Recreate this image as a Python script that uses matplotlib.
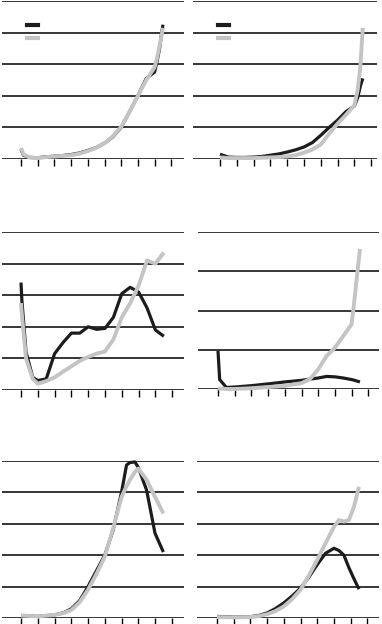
import matplotlib
matplotlib.use("Agg")
import matplotlib.pyplot as plt

W, H = 382, 624
BLACK = "#1c1c1c"
GRAY = "#c4c4c4"

# x positions in tick units (10 ticks, 0..9)
p1_x = [0, 0.15, 0.5, 1, 1.5, 2, 2.5, 3, 3.5, 4, 4.5, 5, 5.5, 6, 6.5, 7, 7.5, 8, 8.15, 8.3, 8.4, 8.5]
p1_black = [0.3, 0.12, 0.05, 0.04, 0.07, 0.09, 0.11, 0.14, 0.19, 0.27, 0.36, 0.5, 0.7, 1.0, 1.5, 2.0, 2.55, 2.75, 3.1, 3.5, 3.9, 4.25]
p1_gray = [0.35, 0.15, 0.05, 0.03, 0.06, 0.08, 0.1, 0.12, 0.17, 0.25, 0.35, 0.5, 0.72, 1.02, 1.5, 2.0, 2.5, 2.9, 3.2, 3.6, 3.85, 4.15]

p2_x = [0, 0.5, 1, 1.5, 2, 2.5, 3, 3.5, 4, 4.5, 5, 5.5, 6, 6.5, 7, 7.5, 8, 8.2, 8.35, 8.5]
p2_black = [0.15, 0.06, 0.05, 0.05, 0.06, 0.08, 0.12, 0.16, 0.22, 0.29, 0.38, 0.52, 0.75, 1.0, 1.23, 1.5, 1.68, 1.95, 2.3, 2.55]
p2_gray = [0.05, 0.03, 0.03, 0.03, 0.03, 0.04, 0.05, 0.06, 0.08, 0.12, 0.2, 0.3, 0.46, 0.8, 1.12, 1.4, 1.7, 2.2, 2.9, 4.15]

p3_x = [0, 0.05, 0.3, 0.7, 1, 1.5, 2, 2.5, 3, 3.5, 4, 4.5, 5, 5.5, 6, 6.5, 7, 7.5, 8, 8.5]
p3_black = [3.4, 2.85, 1.2, 0.4, 0.3, 0.35, 1.15, 1.5, 1.8, 1.8, 2.0, 1.92, 1.95, 2.3, 3.05, 3.25, 3.1, 2.6, 1.9, 1.7]
p3_gray = [2.75, 2.4, 1.0, 0.35, 0.2, 0.28, 0.4, 0.58, 0.75, 0.92, 1.05, 1.15, 1.22, 1.6, 2.3, 2.75, 3.3, 4.1, 4.0, 4.35]

p4_x = [0, 0.1, 0.5, 1, 2, 3, 4, 5, 5.5, 6, 6.5, 7, 7.5, 8, 8.1, 8.5]
p4_black = [0.97, 0.24, 0.04, 0.05, 0.085, 0.13, 0.18, 0.22, 0.25, 0.28, 0.32, 0.31, 0.28, 0.24, 0.23, 0.18]
p4_gray = [0.02, 0.01, 0.0, 0.0, 0.02, 0.05, 0.08, 0.15, 0.25, 0.5, 0.84, 1.05, 1.35, 1.65, 2.0, 3.57]

p5_x = [0, 1, 2, 2.5, 3, 3.5, 4, 4.5, 5, 5.5, 6, 6.3, 6.5, 6.8, 7, 7.5, 8, 8.5]
p5_black = [0.08, 0.05, 0.1, 0.16, 0.29, 0.55, 1.0, 1.5, 2.0, 2.8, 4.0, 4.87, 4.95, 4.97, 4.8, 4.07, 2.7, 2.1]
p5_gray = [0.08, 0.05, 0.1, 0.15, 0.25, 0.5, 0.9, 1.4, 1.95, 2.85, 3.85, 4.2, 4.4, 4.65, 4.76, 4.4, 3.86, 3.33]

p6_x = [0, 1, 2, 2.5, 3, 3.5, 4, 4.5, 5, 5.5, 6, 6.5, 7, 7.3, 7.6, 7.9, 8.2, 8.5]
p6_black = [0.05, 0.03, 0.04, 0.08, 0.16, 0.3, 0.48, 0.7, 0.95, 1.3, 1.7, 2.06, 2.22, 2.15, 2.0, 1.6, 1.25, 0.92]
p6_gray = [0.03, 0.02, 0.03, 0.06, 0.12, 0.22, 0.37, 0.6, 0.9, 1.35, 1.85, 2.38, 2.9, 3.12, 3.07, 3.12, 3.54, 4.18]

panels = [
    # data, ymax, left px, right px, top px, bottom px, tick0 px, tick spacing px, legend
    (p1_x, p1_black, p1_gray, 5, 2, 184, 1, 159, 21, 16.7, True),
    (p2_x, p2_black, p2_gray, 5, 193, 377, 1, 159, 220, 16.8, True),
    (p3_x, p3_black, p3_gray, 5, 2, 184, 232, 390, 21, 16.8, False),
    (p4_x, p4_black, p4_gray, 4, 198, 379, 232, 389, 218, 16.7, False),
    (p5_x, p5_black, p5_gray, 5, 2, 184, 461, 618, 21, 16.75, False),
    (p6_x, p6_black, p6_gray, 5, 197, 379, 461, 618, 217, 16.7, False),
]

fig = plt.figure(figsize=(W / 100, H / 100), dpi=100)

for x, yb, yg, ymax, l, r, t, b, t0, dt, leg in panels:
    ax = fig.add_axes([l / W, 1 - b / H, (r - l) / W, (b - t) / H])
    ax.set_xlim((l - t0) / dt, (r - t0) / dt)
    ax.set_ylim(0, ymax)
    for s in ax.spines.values():
        s.set_visible(False)
    ax.set_yticks(range(ymax + 1))
    ax.yaxis.grid(True, color="black", linewidth=1.1)
    ax.tick_params(axis="y", length=0, labelleft=False)
    ax.set_xticks(range(10))
    ax.tick_params(axis="x", direction="out", length=5, width=1, color="black", labelbottom=False)
    ax.set_axisbelow(True)
    ax.plot(x, yb, color=BLACK, linewidth=2.3, clip_on=False, solid_capstyle="butt")
    ax.plot(x, yg, color=GRAY, linewidth=2.8, clip_on=False, solid_capstyle="butt")
    if leg:
        lx = (l + 25 - t0) / dt
        ax.plot([lx, lx + 11 / dt], [ymax - 24 / 31.6, ymax - 24 / 31.6], color=BLACK, linewidth=3)
        ax.plot([lx, lx + 11 / dt], [ymax - 37 / 31.6, ymax - 37 / 31.6], color=GRAY, linewidth=3)

fig.savefig("out.png", dpi=100)
